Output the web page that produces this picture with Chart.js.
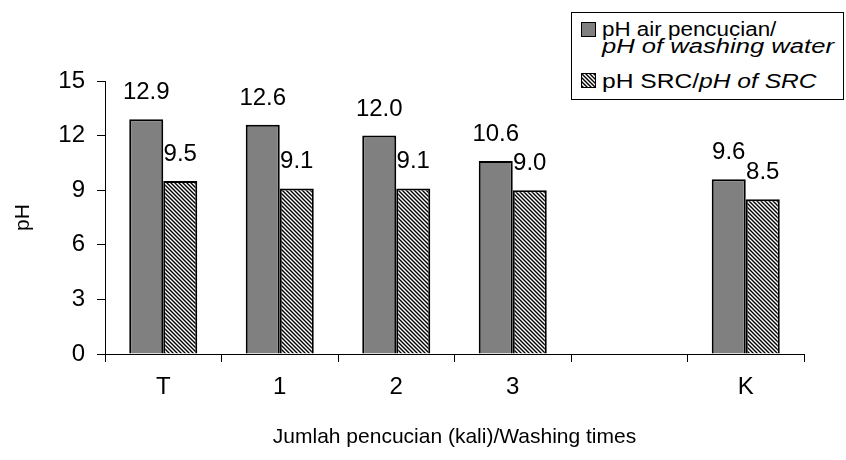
<!DOCTYPE html>
<html>
<head>
<meta charset="utf-8">
<script src="https://cdn.jsdelivr.net/npm/chart.js@4.4.1/dist/chart.umd.min.js"></script>
<style>
  body { margin: 0; background: #fff; }
  #wrap { position: relative; width: 846px; height: 460px; font-family: "Liberation Sans", Arial, sans-serif; }
  #legend { position: absolute; left: 571px; top: 12px; width: 271px; height: 86px; border: 1px solid #000; background: #fff; }
  #legend .mk { position: absolute; left: 9px; width: 13px; height: 13px; border: 1px solid #000; }
  #legend .tx { position: absolute; left: 30px; font-size: 20px; line-height: 20px; color: #000; white-space: nowrap;
                transform-origin: 0 0; }
</style>
</head>
<body>
<div id="wrap">
  <canvas id="chart" width="846" height="460"></canvas>
  <div id="legend">
    <div class="mk" style="top:9px;background:#808080"></div>
    <div class="tx" style="top:6px;transform:scaleX(1.12)">pH air pencucian/</div>
    <div class="tx" style="top:23px;transform:scaleX(1.28)"><i>pH of washing water</i></div>
    <div class="mk" id="mk2" style="top:60px"></div>
    <div class="tx" style="top:58px;transform:scaleX(1.23)">pH SRC/<i>pH of SRC</i></div>
  </div>
</div>
<script>
// kategori (kolom ke-5 sengaja kosong)
const categories = ["T", "1", "2", "3", "", "K"];
const washWater = [12.9, 12.6, 12.0, 10.6, null, 9.6]; // pH air pencucian
const phSRC = [9.5, 9.1, 9.1, 9.0, null, 8.5];         // pH SRC
const yTicks = [0, 3, 6, 9, 12, 15];

const FONT = "'Liberation Sans', Arial, sans-serif";

// pola garis miring untuk batang SRC
function hatch() {
  const c = document.createElement("canvas");
  c.width = 4; c.height = 4;
  const g = c.getContext("2d");
  g.fillStyle = "#fff";
  g.fillRect(0, 0, 4, 4);
  g.strokeStyle = "#000";
  g.lineWidth = 1.4;
  g.beginPath();
  g.moveTo(0, 0); g.lineTo(4, 4);
  g.moveTo(-1, 3); g.lineTo(1, 5);
  g.moveTo(3, -1); g.lineTo(5, 1);
  g.stroke();
  return c;
}
const hatchCanvas = hatch();
document.getElementById("mk2").style.background = "url(" + hatchCanvas.toDataURL() + ")";

const ctx = document.getElementById("chart").getContext("2d");
const pattern = ctx.createPattern(hatchCanvas, "repeat");

// label nilai di atas batang
const valueLabels = {
  id: "valueLabels",
  afterDatasetsDraw(chart) {
    const c = chart.ctx;
    c.save();
    c.font = "24px " + FONT;
    c.fillStyle = "#000";
    c.textAlign = "center";
    c.textBaseline = "alphabetic";
    chart.data.datasets.forEach((ds, i) => {
      chart.getDatasetMeta(i).data.forEach((bar, j) => {
        const v = ds.data[j];
        if (v === null) return;
        c.fillText(v.toFixed(1), bar.x, bar.y - 20);
      });
    });
    c.restore();
  }
};

new Chart(ctx, {
  type: "bar",
  data: {
    labels: categories,
    datasets: [
      {
        label: "pH air pencucian/pH of washing water",
        data: washWater,
        backgroundColor: "#808080",
        borderColor: "#000",
        borderWidth: 2,
        categoryPercentage: 0.584,
        barPercentage: 1,
      },
      {
        label: "pH SRC/pH of SRC",
        data: phSRC,
        backgroundColor: pattern,
        borderColor: "#000",
        borderWidth: 2,
        categoryPercentage: 0.584,
        barPercentage: 1,
      },
    ],
  },
  options: {
    responsive: false,
    animation: false,
    layout: { padding: { top: 81, right: 42, left: 0, bottom: 0 } },
    plugins: {
      legend: { display: false },
      tooltip: { enabled: false },
    },
    scales: {
      x: {
        grid: { offset: true, drawOnChartArea: false, drawTicks: true, tickLength: 8, color: "#000" },
        border: { display: true, color: "#000", width: 1 },
        ticks: { color: "#000", font: { family: FONT, size: 24 }, padding: 11 },
        title: {
          display: true,
          text: "Jumlah pencucian (kali)/Washing times",
          color: "#000",
          font: { family: FONT, size: 21 },
          padding: { top: 0, bottom: 10 },
        },
        afterFit(scale) { scale.height = 106; },
      },
      y: {
        min: 0,
        max: 15,
        afterBuildTicks(scale) { scale.ticks = yTicks.map(v => ({ value: v })); },
        grid: { drawOnChartArea: false, drawTicks: true, tickLength: 8, color: "#000" },
        border: { display: true, color: "#000", width: 1 },
        ticks: { color: "#000", font: { family: FONT, size: 24 }, padding: 12 },
        title: {
          display: true,
          text: "pH",
          color: "#000",
          font: { family: FONT, size: 21 },
          padding: { top: 11, bottom: 0 },
        },
        afterFit(scale) { scale.width = 105; },
      },
    },
  },
  plugins: [valueLabels],
});
</script>
</body>
</html>
